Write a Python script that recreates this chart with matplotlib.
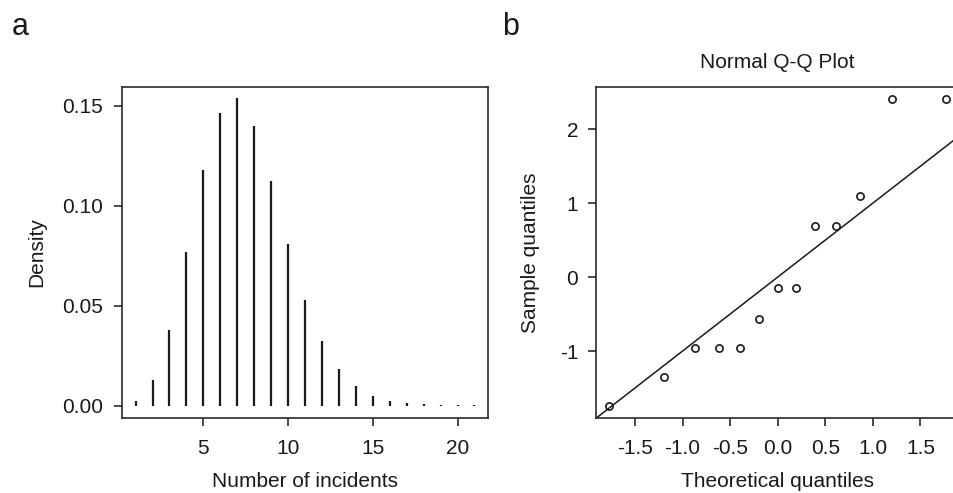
import numpy as np
import matplotlib
matplotlib.use("Agg")
import matplotlib.pyplot as plt

plt.rcParams["font.family"] = ["Liberation Sans", "DejaVu Sans"]
plt.rcParams["axes.unicode_minus"] = False

# panel a: density of number of incidents
incidents = list(range(1, 22))
density = [0.0023, 0.0128, 0.038, 0.077, 0.118, 0.1465, 0.1538, 0.140, 0.1125,
           0.081, 0.053, 0.0325, 0.0183, 0.010, 0.005, 0.0025, 0.0012, 0.0006,
           0.0003, 0.00015, 0.0001]

# panel b: normal Q-Q plot
theoretical_q = [-1.769, -1.198, -0.869, -0.615, -0.396, -0.194, 0.0,
                 0.194, 0.396, 0.615, 0.869, 1.198, 1.769]
sample_q = [-1.74, -1.355, -0.954, -0.954, -0.954, -0.562, -0.149,
            -0.149, 0.689, 0.689, 1.10, 2.405, 2.405]

ink = "#1a1a1a"
fs = 15

fig = plt.figure(figsize=(9.54, 4.93), dpi=100)
W, H = 954, 493


def px_axes(l, r, t, b):
    return fig.add_axes([l / W, 1 - b / H, (r - l) / W, (b - t) / H])


def style(ax, ypad):
    for s in ax.spines.values():
        s.set_linewidth(1.2)
        s.set_color("#2a2a2a")
    ax.tick_params(axis="both", direction="out", length=5.8, width=1.2,
                   color="#2a2a2a", labelsize=fs, labelcolor=ink)
    ax.tick_params(axis="x", pad=9)
    ax.tick_params(axis="y", pad=ypad)


# ---- panel a
ax1 = px_axes(122, 488, 87, 418)
ax1.vlines(incidents, 0, density, color=ink, linewidth=1.6)
ax1.set_xlim(0.2, 21.8)
ax1.set_ylim(-0.0062, 0.1595)
ax1.set_xticks([5, 10, 15, 20])
ax1.set_yticks([0.0, 0.05, 0.10, 0.15])
ax1.set_yticklabels(["0.00", "0.05", "0.10", "0.15"])
style(ax1, 7.8)
ax1.set_xlabel("Number of incidents", fontsize=fs, color=ink)
ax1.set_ylabel("Density", fontsize=fs, color=ink)
ax1.xaxis.set_label_coords(0.5, -0.163)
ax1.yaxis.set_label_coords(-0.208, 0.5)

# ---- panel b (right edge runs past the figure, as in the source)
ax2 = px_axes(596, 959.4, 87, 418)
ax2.plot(theoretical_q, sample_q, linestyle="none", marker="o",
         markersize=5.2, markerfacecolor="none", markeredgecolor=ink,
         markeredgewidth=1.2)
ax2.axline((0, 0), slope=1, color=ink, linewidth=1.1)
ax2.set_xlim(-1.91, 1.91)
ax2.set_ylim(-1.906, 2.571)
ax2.set_xticks([-1.5, -1.0, -0.5, 0.0, 0.5, 1.0, 1.5])
ax2.set_xticklabels(["-1.5", "-1.0", "-0.5", "0.0", "0.5", "1.0", "1.5"])
ax2.set_yticks([-1, 0, 1, 2])
style(ax2, 7)
ax2.set_title("Normal Q-Q Plot", fontsize=fs, color=ink, pad=13.7)
ax2.set_xlabel("Theoretical quantiles", fontsize=fs, color=ink)
ax2.set_ylabel("Sample quantiles", fontsize=fs, color=ink)
ax2.xaxis.set_label_coords(0.5, -0.163)
ax2.yaxis.set_label_coords(-0.154, 0.5)

# panel letters
fig.text(12 / W, 1 - 35 / H, "a", fontsize=22, color=ink, va="baseline")
fig.text(502 / W, 1 - 35 / H, "b", fontsize=22, color=ink, va="baseline")

fig.savefig("out.png", dpi=100)
